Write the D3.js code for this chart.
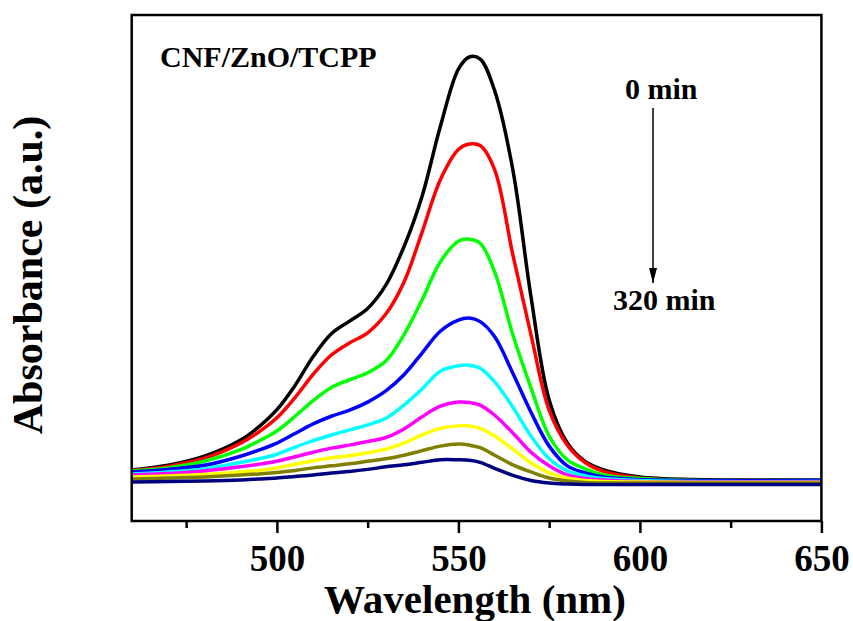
<!DOCTYPE html>
<html lang="en">
<head>
<meta charset="utf-8">
<title>CNF/ZnO/TCPP absorbance</title>
<script src="https://cdn.jsdelivr.net/npm/d3@7"></script>
<style>
  body { margin: 0; background: #fff; }
  text { font-family: "Liberation Serif", "Times New Roman", serif; font-weight: bold; fill: #000; }
</style>
</head>
<body>
<div id="bod"></div>
<script>
// wavelength grid (nm)
const wavelengths = [460, 470, 480, 490, 495, 500, 505, 510, 515, 520, 525, 530, 535, 540, 545, 550, 553, 556, 560, 565, 570, 575, 580, 585, 590, 600, 615, 650];

// absorbance, one array per irradiation time
const abs0   = [0.101, 0.110, 0.128, 0.160, 0.186, 0.220, 0.268, 0.325, 0.370, 0.395, 0.420, 0.466, 0.542, 0.642, 0.779, 0.893, 0.917, 0.913, 0.850, 0.694, 0.443, 0.239, 0.154, 0.117, 0.101, 0.087, 0.082, 0.081];
const abs40  = [0.100, 0.108, 0.124, 0.154, 0.176, 0.204, 0.244, 0.290, 0.328, 0.352, 0.372, 0.409, 0.472, 0.571, 0.674, 0.734, 0.745, 0.742, 0.694, 0.526, 0.368, 0.219, 0.150, 0.115, 0.098, 0.085, 0.080, 0.079];
const abs80  = [0.099, 0.105, 0.118, 0.141, 0.158, 0.178, 0.207, 0.238, 0.264, 0.279, 0.293, 0.316, 0.368, 0.437, 0.512, 0.553, 0.557, 0.549, 0.492, 0.368, 0.263, 0.168, 0.121, 0.103, 0.091, 0.084, 0.080, 0.079];
const abs120 = [0.097, 0.102, 0.110, 0.128, 0.140, 0.154, 0.173, 0.192, 0.207, 0.219, 0.235, 0.257, 0.289, 0.332, 0.375, 0.397, 0.401, 0.394, 0.364, 0.292, 0.215, 0.148, 0.109, 0.095, 0.087, 0.082, 0.080, 0.080];
const abs160 = [0.093, 0.097, 0.103, 0.116, 0.123, 0.132, 0.146, 0.159, 0.170, 0.180, 0.190, 0.203, 0.229, 0.261, 0.296, 0.307, 0.308, 0.302, 0.275, 0.225, 0.168, 0.123, 0.099, 0.089, 0.084, 0.080, 0.078, 0.078];
const abs200 = [0.091, 0.094, 0.099, 0.107, 0.112, 0.118, 0.127, 0.136, 0.144, 0.150, 0.157, 0.165, 0.182, 0.206, 0.227, 0.235, 0.234, 0.229, 0.209, 0.174, 0.136, 0.109, 0.091, 0.084, 0.081, 0.078, 0.077, 0.077];
const abs240 = [0.087, 0.089, 0.092, 0.097, 0.100, 0.105, 0.112, 0.119, 0.125, 0.129, 0.135, 0.142, 0.154, 0.170, 0.183, 0.188, 0.188, 0.183, 0.168, 0.142, 0.115, 0.095, 0.085, 0.080, 0.078, 0.077, 0.076, 0.076];
const abs280 = [0.083, 0.085, 0.087, 0.091, 0.093, 0.096, 0.100, 0.105, 0.109, 0.113, 0.118, 0.123, 0.130, 0.139, 0.148, 0.152, 0.150, 0.145, 0.130, 0.111, 0.097, 0.085, 0.079, 0.076, 0.075, 0.075, 0.075, 0.075];
const abs320 = [0.077, 0.078, 0.079, 0.081, 0.083, 0.085, 0.088, 0.091, 0.095, 0.098, 0.102, 0.107, 0.111, 0.116, 0.121, 0.121, 0.120, 0.116, 0.104, 0.090, 0.080, 0.075, 0.073, 0.072, 0.072, 0.072, 0.072, 0.072];

const seriesList = [abs0, abs40, abs80, abs120, abs160, abs200, abs240, abs280, abs320];
const seriesColors = ["#000000", "#ff0000", "#00ff00", "#0000ff", "#00ffff", "#ff00ff", "#ffff00", "#808000", "#000080"];

const majorTicks = [500, 550, 600, 650];
const minorTicks = [475, 525, 575, 625];

let w = 853;
let h = 621;
let plotLeft = 131.7, plotRight = 821.4, plotTop = 15, plotBottom = 521;

let xScale = d3.scaleLinear()
  .domain([460, 650])
  .range([plotLeft, plotRight]);

let yScale = d3.scaleLinear()
  .domain([0, 1])
  .range([plotBottom, plotTop]);

let svg = d3.select("#bod")
  .append("svg")
  .attr("width", w)
  .attr("height", h);

let line = d3.line()
  .x((d) => xScale(d[0]))
  .y((d) => yScale(d[1]))
  .curve(d3.curveCatmullRom.alpha(0.5));

svg.append("g")
  .attr("class", "spectra")
  .selectAll("path")
  .data(seriesList)
  .enter()
  .append("path")
  .attr("d", (s) => line(wavelengths.map((wl, i) => [wl, s[i]])))
  .attr("fill", "none")
  .attr("stroke", (s, i) => seriesColors[i])
  .attr("stroke-width", 3.5)
  .attr("stroke-linejoin", "round");

// frame
svg.append("rect")
  .attr("x", plotLeft)
  .attr("y", plotTop)
  .attr("width", plotRight - plotLeft)
  .attr("height", plotBottom - plotTop)
  .attr("fill", "none")
  .attr("stroke", "#000")
  .attr("stroke-width", 2.5);

let xAxis = d3.axisBottom(xScale)
  .tickValues(majorTicks)
  .tickSize(12)
  .tickPadding(12);

let xMinor = d3.axisBottom(xScale)
  .tickValues(minorTicks)
  .tickSize(7)
  .tickFormat("");

let gx = svg.append("g")
  .attr("class", "x axis")
  .attr("transform", "translate(0," + plotBottom + ")")
  .call(xAxis);
gx.select(".domain").remove();
gx.selectAll("line").attr("stroke-width", 2.5);
gx.selectAll("text")
  .attr("font-size", 37)
  .attr("font-family", "Liberation Serif, Times New Roman, serif")
  .attr("font-weight", "bold")
  .attr("fill", "#000");

let gm = svg.append("g")
  .attr("class", "x minor")
  .attr("transform", "translate(0," + plotBottom + ")")
  .call(xMinor);
gm.select(".domain").remove();
gm.selectAll("line").attr("stroke-width", 2.5);

// axis titles
svg.append("text")
  .attr("x", 475)
  .attr("y", 613)
  .attr("text-anchor", "middle")
  .attr("font-size", 41)
  .text("Wavelength (nm)");

svg.append("text")
  .attr("transform", "translate(42,275) rotate(-90)")
  .attr("text-anchor", "middle")
  .attr("font-size", 42)
  .text("Absorbance (a.u.)");

// annotations
svg.append("text")
  .attr("x", 160)
  .attr("y", 67)
  .attr("font-size", 30)
  .text("CNF/ZnO/TCPP");

svg.append("text")
  .attr("x", 625)
  .attr("y", 99)
  .attr("font-size", 30)
  .text("0 min");

svg.append("text")
  .attr("x", 613)
  .attr("y", 310)
  .attr("font-size", 30)
  .text("320 min");

svg.append("defs").append("marker")
  .attr("id", "arrow")
  .attr("viewBox", "0 0 10 10")
  .attr("refX", 10)
  .attr("refY", 5)
  .attr("markerWidth", 15)
  .attr("markerHeight", 8)
  .attr("markerUnits", "userSpaceOnUse")
  .attr("orient", "auto")
  .attr("preserveAspectRatio", "none")
  .append("path")
  .attr("d", "M0,0 L10,5 L0,10 z")
  .attr("fill", "#000");

svg.append("line")
  .attr("x1", 653)
  .attr("y1", 108)
  .attr("x2", 653)
  .attr("y2", 283)
  .attr("stroke", "#000")
  .attr("stroke-width", 1.5)
  .attr("marker-end", "url(#arrow)");
</script>
</body>
</html>
